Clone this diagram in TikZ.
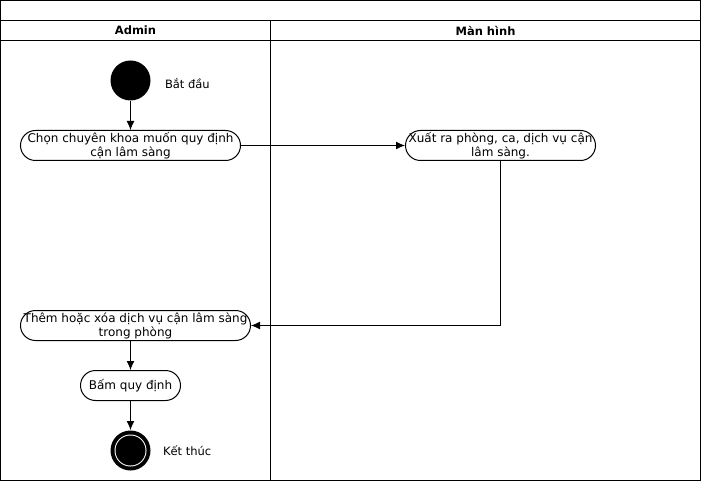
\documentclass[tikz,border=0pt]{standalone}
\usepackage{fontspec}
\setmainfont{DejaVu Sans}
\usepackage{tikz}
\usetikzlibrary{arrows.meta}

\tikzset{
  action/.style={draw, line width=1pt, rounded corners=15, minimum height=30, inner sep=0pt, align=center, font=\fontsize{12}{14}\selectfont},
  lanehead/.style={font=\fontsize{11.5}{13}\selectfont\bfseries},
  caption/.style={anchor=west, inner sep=0pt, font=\fontsize{11.5}{14}\selectfont}
}

\begin{document}
\begin{tikzpicture}[x=1pt, y=-1pt, >={Latex[length=9pt,width=8pt]}, line width=1pt]
      \useasboundingbox (-0.5,-0.5) rectangle (700.5,480.5);

      \draw (0,0) rectangle (700,480);
      \draw (0,20) -- (700,20);
      \draw (0,40) -- (700,40);
      \draw (270,20) -- (270,480);

      \node[lanehead] (admin) at (135,30) {Admin};
      \node[lanehead] (screen) at (485,30) {Màn hình};

      \node[circle, fill=black, minimum size=40, inner sep=0pt] (start) at (130,80) {};
      \node[caption] (startlbl) at (164,83) {Bắt đầu};

      \node[action, minimum width=220] (choose) at (130,145) {Chọn chuyên khoa muốn quy định\\cận lâm sàng};
      \node[action, minimum width=190] (show) at (500,145) {Xuất ra phòng, ca, dịch vụ cận\\lâm sàng.};
      \node[action, minimum width=230] (edit) at (135,325) {Thêm hoặc xóa dịch vụ cận lâm sàng\\trong phòng};
      \node[action, minimum width=100] (apply) at (130,385) {Bấm quy định};

      \node[circle, fill=black, minimum size=40, inner sep=0pt] (stop) at (130,450) {};
      \fill[white] (stop) circle (16);
      \fill[black] (stop) circle (15);
      \node[caption] (stoplbl) at (162,450) {Kết thúc};

      \draw[->] (start) -- (choose);
      \draw[->] (choose) -- (show);
      \draw[->] (show.south) |- (edit.east);
      \draw[->] (apply.north |- edit.south) -- (apply);
      \draw[->] (apply) -- (stop);
    \end{tikzpicture}
\end{document}
